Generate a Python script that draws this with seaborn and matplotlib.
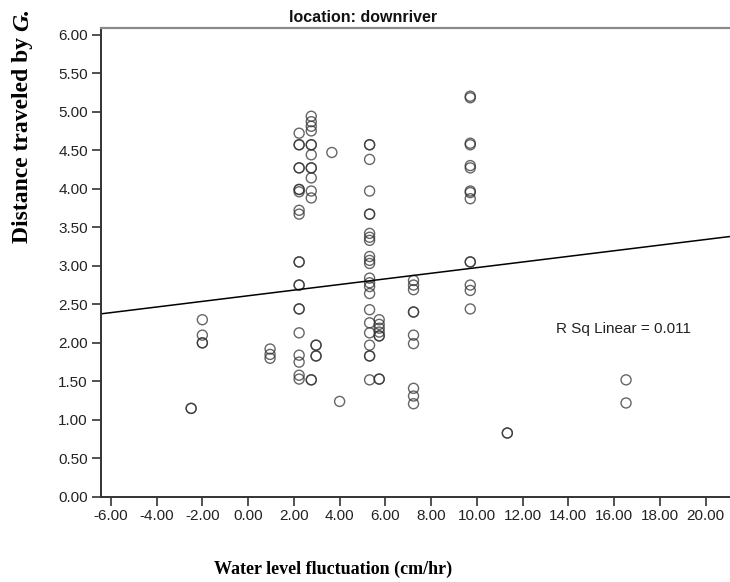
import matplotlib
matplotlib.use("Agg")
import matplotlib.pyplot as plt
import seaborn as sns
import pandas as pd

# ---- data ----
x_vals = (
    [-2.49] * 2
    + [-2.0] * 4
    + [0.96] * 3
    + [2.23] * 21
    + [2.76] * 14
    + [2.97] * 4
    + [3.66]
    + [4.0]
    + [5.31] * 23
    + [5.73] * 8
    + [7.23] * 10
    + [9.71] * 14
    + [11.33] * 2
    + [16.52] * 2
)
y_vals = (
    [1.15, 1.15]
    + [2.30, 2.10, 2.00, 2.00]
    + [1.92, 1.85, 1.80]
    + [4.72, 4.57, 4.57, 4.27, 4.27, 3.99, 3.99, 3.96, 3.72, 3.67, 3.05, 3.05,
       2.75, 2.75, 2.44, 2.44, 2.13, 1.84, 1.75, 1.58, 1.53]
    + [4.94, 4.87, 4.81, 4.75, 4.57, 4.57, 4.44, 4.27, 4.27, 4.14, 3.97, 3.88,
       1.52, 1.52]
    + [1.97, 1.97, 1.83, 1.83]
    + [4.47]
    + [1.24]
    + [4.57, 4.57, 4.38, 3.97, 3.67, 3.67, 3.42, 3.37, 3.33, 3.12, 3.07, 3.03,
       2.84, 2.78, 2.73, 2.64, 2.43, 2.26, 2.13, 1.97, 1.83, 1.83, 1.52]
    + [2.30, 2.24, 2.19, 2.14, 2.09, 2.09, 1.53, 1.53]
    + [2.81, 2.75, 2.69, 2.40, 2.40, 2.10, 1.99, 1.41, 1.31, 1.21]
    + [5.20, 5.18, 4.59, 4.57, 4.30, 4.27, 3.97, 3.95, 3.87, 3.05, 3.05, 2.75,
       2.68, 2.44]
    + [0.83, 0.83]
    + [1.52, 1.22]
)
fit_intercept = 2.611
fit_slope = 0.0365
r_sq_text = "R Sq Linear = 0.011"
x_ticks = [-6, -4, -2, 0, 2, 4, 6, 8, 10, 12, 14, 16, 18, 20]
y_ticks = [0, 0.5, 1.0, 1.5, 2.0, 2.5, 3.0, 3.5, 4.0, 4.5, 5.0, 5.5, 6.0]
title_text = "location: downriver"
xlabel_text = "Water level fluctuation (cm/hr)"
ylabel_text = "Distance traveled by "
ylabel_italic = "G."

df = pd.DataFrame({"x": x_vals, "y": y_vals})

sns.set_theme(style="white")
plt.rcParams["font.family"] = ["Liberation Sans", "DejaVu Sans"]

W, H = 730, 582
fig = plt.figure(figsize=(W / 100, H / 100), dpi=100)
ax = fig.add_axes([101 / W, (H - 497) / H, (740 - 101) / W, (497 - 28) / H])

sns.scatterplot(data=df, x="x", y="y", ax=ax, marker="o", s=52,
                facecolors="none", edgecolor="#333333", linewidth=1.0,
                alpha=0.75, legend=False)

ax.axline((0, fit_intercept), slope=fit_slope, color="black", linewidth=1.1)

ax.set_xlim(-6.43, 21.5)
ax.set_ylim(0, 6.085)
ax.set_xticks(x_ticks)
ax.set_yticks(y_ticks)
ax.set_xticklabels([f"{v:.2f}" for v in x_ticks])
ax.set_yticklabels([f"{v:.2f}" for v in y_ticks])
ax.tick_params(axis="both", which="major", direction="out", length=6.5,
               width=1.2, color="#333333", labelsize=11, labelcolor="#222222",
               bottom=True, left=True)
ax.tick_params(axis="x", pad=2)
ax.tick_params(axis="y", pad=3)
ax.set_xlabel("")
ax.set_ylabel("")

for side in ["left", "bottom"]:
    ax.spines[side].set_color("#333333")
    ax.spines[side].set_linewidth(1.4)
ax.spines["top"].set_color("#8a8a8a")
ax.spines["top"].set_linewidth(1.6)
ax.spines["right"].set_visible(False)

ax.text(13.47, 2.18, r_sq_text, ha="left", va="center", fontsize=11,
        color="#222222")

fig.text(289 / W, 1 - 17 / H, title_text, ha="left", va="center",
         fontsize=11.5, fontweight="bold", color="#111111")

fig.text((213 + 240 / 2) / W, 1 - 569 / H, xlabel_text, ha="center",
         va="center", fontsize=13, fontweight="bold",
         family=["Liberation Serif"], color="black")

t1 = fig.text(23 / W, 1 - 243 / H, ylabel_text, rotation=90, ha="center",
              va="bottom", fontsize=17, fontweight="bold",
              family=["Liberation Serif"], color="black")
fig.canvas.draw()
bb = t1.get_window_extent()
fig.text(23 / W, bb.y1 / H, ylabel_italic, rotation=90, ha="center",
         va="bottom", fontsize=17, fontweight="bold", fontstyle="italic",
         family=["Liberation Serif"], color="black")

fig.savefig("out.png", dpi=100)
